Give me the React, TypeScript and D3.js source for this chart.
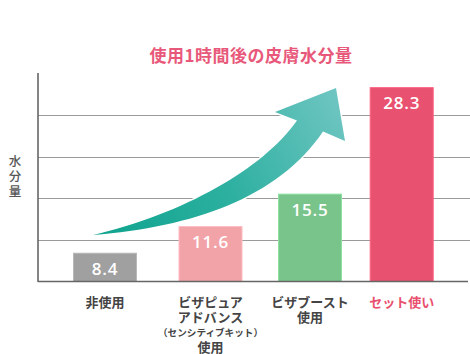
import React from 'react';
import * as d3 from 'd3';

const categories = ['非使用', 'ビザピュア\nアドバンス\n（センシティブキット）\n使用', 'ビザブースト\n使用', 'セット使い'];
const values = [8.4, 11.6, 15.5, 28.3];
const barColors = ['#9fa09f', '#f2a3a8', '#79c48b', '#e85270'];
const labelColors = ['#444444', '#444444', '#444444', '#e8506e'];
const gridTicks = [10, 15, 20, 25];
const title = '使用1時間後の皮膚水分量';
const yLabel = ['水', '分', '量'];

const W = 470;
const H = 354;
const JP = '"Noto Sans CJK JP", "Noto Sans", sans-serif';

export default function App() {
  const x = d3.scaleOrdinal<string, number>().domain(categories).range([105, 210.5, 310, 401.7]);
  const y = d3.scaleLinear().domain([5, 30]).range([281.5, 73.5]);
  const barW = 63;
  const axisX = 38;

  const p = d3.path();
  p.moveTo(93, 235);
  p.bezierCurveTo(183, 214, 263, 169, 297, 120.5);
  p.lineTo(275, 112);
  p.lineTo(336, 88);
  p.lineTo(345, 141);
  p.lineTo(323, 131.5);
  p.bezierCurveTo(278, 198, 193, 227, 93, 235);
  p.closePath();

  return (
    <svg width={W} height={H} style={{ position: 'absolute', left: 0, top: 0, background: '#fff' }}>
      <defs>
        <linearGradient id="arrowGrad" gradientUnits="userSpaceOnUse" x1={93} y1={235} x2={340} y2={100}>
          <stop offset="0" stopColor="#0ea38e" />
          <stop offset="0.5" stopColor="#2db0a0" />
          <stop offset="1" stopColor="#6ec5c1" />
        </linearGradient>
      </defs>
      <text x={251} y={54} textAnchor="middle" dominantBaseline="central" fontFamily={JP} fontWeight={700}
        fontSize={17} letterSpacing={0.5} fill="#e8587a">{title}</text>
      {yLabel.map((c, i) => (
        <text key={c} x={15} y={160 + i * 15} textAnchor="middle" dominantBaseline="central" fontFamily={JP}
          fontWeight={500} fontSize={12.5} fill="#555">{c}</text>
      ))}
      {gridTicks.map(t => (
        <line key={t} x1={axisX} x2={W} y1={Math.round(y(t)) + 0.5} y2={Math.round(y(t)) + 0.5} stroke="#9a9a9a" strokeWidth={1} />
      ))}
      <path d={p.toString()} fill="url(#arrowGrad)" stroke="#fff" strokeWidth={3} style={{ paintOrder: 'stroke' }} />
      {categories.map((c, i) => (
        <g key={c}>
          <rect x={x(c) - barW / 2} y={y(values[i])} width={barW} height={y(5) - y(values[i])}
            fill={barColors[i]} stroke={d3.color(barColors[i])!.brighter(0.4).toString()} strokeWidth={1} />
          <text x={x(c)} y={y(values[i]) + 15} textAnchor="middle" dominantBaseline="central"
            fontFamily='"Open Sans", sans-serif' fontWeight={600} fontSize={17} letterSpacing={0.8} fill="#fff">{values[i]}</text>
          {c.split('\n').map((line, j) => {
            const small = line.startsWith('（');
            return (
              <text key={j} x={x(c)} y={301 + j * 15.3} textAnchor="middle" dominantBaseline="central"
                fontFamily={JP} fontWeight={700} fontSize={small ? 9.6 : 13} fill={labelColors[i]}>{line}</text>
            );
          })}
        </g>
      ))}
      <line x1={axisX} x2={axisX} y1={73} y2={282} stroke="#666" strokeWidth={1.6} />
      <line x1={axisX} x2={468} y1={281.5} y2={281.5} stroke="#666" strokeWidth={1.6} />
    </svg>
  );
}
